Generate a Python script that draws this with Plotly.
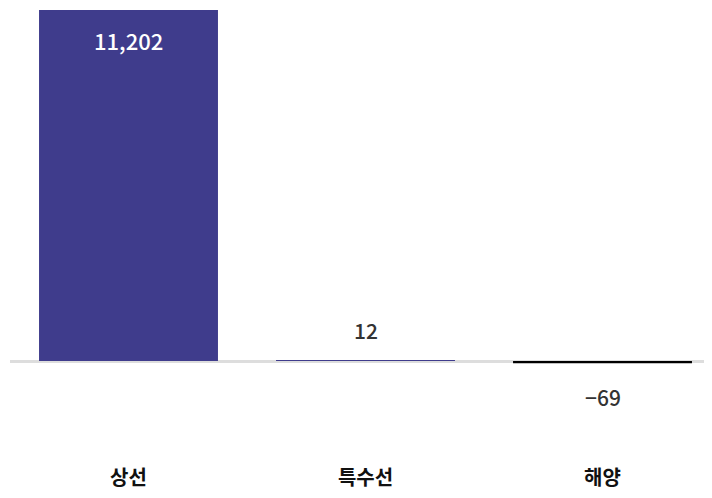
import plotly.graph_objects as go

categories = ["상선", "특수선", "해양"]
values = [11202, 12, -69]
value_labels = ["11,202", "12", "−69"]
colors = ["#3F3C8C", "#3F3C8C", "#000000"]

FONT = "Noto Sans CJK KR"

fig = go.Figure()
fig.add_trace(go.Bar(
    x=categories, y=values, marker=dict(color=colors, line=dict(width=0)),
    width=0.755, hoverinfo="skip",
))

ann = []
for i, (c, v, t) in enumerate(zip(categories, values, value_labels)):
    if i == 0:
        ann.append(dict(x=c, y=v, text=t, showarrow=False, yanchor="middle", yshift=-30,
                        font=dict(family=FONT, size=22, color="#ffffff", weight=500)))
    elif v >= 0:
        ann.append(dict(x=c, y=v, text=t, showarrow=False, yanchor="middle", yshift=31,
                        font=dict(family=FONT, size=21, color="#333333", weight=500)))
    else:
        ann.append(dict(x=c, y=v, text=t, showarrow=False, yanchor="middle", yshift=-34,
                        font=dict(family=FONT, size=21, color="#333333", weight=500)))

fig.update_layout(
    width=704, height=490,
    margin=dict(l=2, r=0, t=2, b=34),
    plot_bgcolor="white", paper_bgcolor="white",
    showlegend=False,
    annotations=ann,
    xaxis=dict(range=[-0.5, 2.462], showgrid=False, showline=False, ticks="",
               tickfont=dict(family=FONT, size=20, color="#111111", weight="bold")),
    yaxis=dict(range=[-3287, 11202], showgrid=False, showticklabels=False,
               zeroline=True, zerolinecolor="#dddddd", zerolinewidth=3,
               layer="above traces"),
)

fig.write_html("out.html")
